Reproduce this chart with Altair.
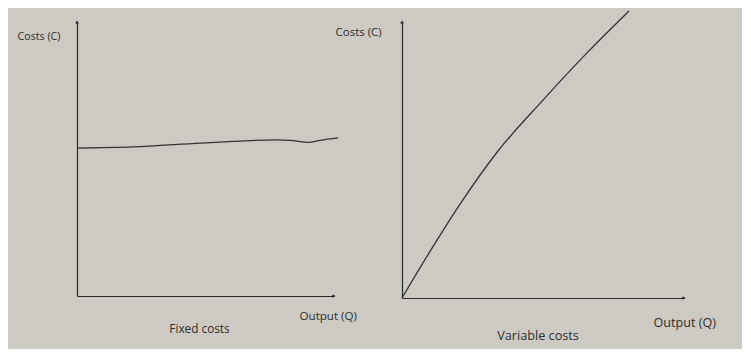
import altair as alt
import pandas as pd

# Fixed costs curve (output Q, cost C)
fixed_q = [0, 2.18, 4.79, 6.07, 7.78, 8.29, 9.07, 9.46, 10.16]
fixed_c = [54.0, 54.4, 55.8, 56.4, 57.0, 56.8, 56.1, 56.8, 57.7]

# Variable costs curve
var_q = [0, 1.06, 2.13, 3.37, 5.0, 6.56, 8.05]
var_c = [0, 18.0, 35.1, 52.8, 71.7, 88.8, 104.0]

# axis extents (arrow tips)
q_max = 10
c_max = 100

titles = ["Fixed costs", "Variable costs"]
y_label = "Costs (C)"
x_label = "Output (Q)"

FONT = "Open Sans"
INK = "#2e2e2e"

fixed_df = pd.DataFrame({"Q": fixed_q, "C": fixed_c})
var_df = pd.DataFrame({"Q": var_q, "C": var_c})
arrow_up = pd.DataFrame({"Q": [0], "C": [c_max]})
arrow_right = pd.DataFrame({"Q": [q_max], "C": [0]})


def panel(df, title, w, h, ytx, yty, yfs, xtx, xty, xfs, title_dx, title_dy, tfs):
    xs = alt.Scale(domain=[0, q_max], nice=False, zero=False)
    ys = alt.Scale(domain=[0, c_max], nice=False, zero=False)
    xax = alt.Axis(title=x_label, titleAngle=0, titleX=xtx, titleY=xty,
                   titleAlign="left", titleBaseline="middle", titleFontSize=xfs)
    yax = alt.Axis(title=y_label, titleAngle=0, titleX=ytx, titleY=yty,
                   titleAlign="left", titleBaseline="middle", titleFontSize=yfs)
    line = alt.Chart(df).mark_line(color="#333333", strokeWidth=1.3, clip=False,
                                   interpolate="monotone").encode(
        x=alt.X("Q:Q", scale=xs, axis=xax),
        y=alt.Y("C:Q", scale=ys, axis=yax),
    )
    up = alt.Chart(arrow_up).mark_point(shape="triangle-up", size=14, filled=True,
                                        color="#222222", opacity=1).encode(
        x=alt.X("Q:Q", scale=xs), y=alt.Y("C:Q", scale=ys))
    right = alt.Chart(arrow_right).mark_point(shape="triangle-right", size=14, filled=True,
                                              color="#222222", opacity=1).encode(
        x=alt.X("Q:Q", scale=xs), y=alt.Y("C:Q", scale=ys))
    return alt.layer(line, up, right).properties(
        width=w, height=h,
        title=alt.TitleParams(text=title, orient="bottom", anchor="middle",
                              dx=title_dx, dy=title_dy, font=FONT, fontSize=tfs,
                              fontWeight="normal", color=INK),
    )


left = panel(fixed_df, titles[0], 257, 274, -60, 14, 10.7, 222, 20, 11.6, -6, -2, 11.8)
right = panel(var_df, titles[1], 282, 276, -67, 10, 11.5, 251, 24, 12.6, -5, -3, 12.7)

chart = alt.hconcat(left, right, spacing=68, bounds="flush").properties(
    padding={"left": 9, "top": 0, "right": 26, "bottom": 6},
    background="#cdcac3",
).configure_view(stroke=None).configure_axis(
    grid=False, ticks=False, labels=False, domainColor="#2a2a2a", domainWidth=1.2,
    titleFont=FONT, titleFontWeight="normal", titleColor=INK,
)

chart.save("out.html", embed_options={"renderer": "svg", "actions": False})
